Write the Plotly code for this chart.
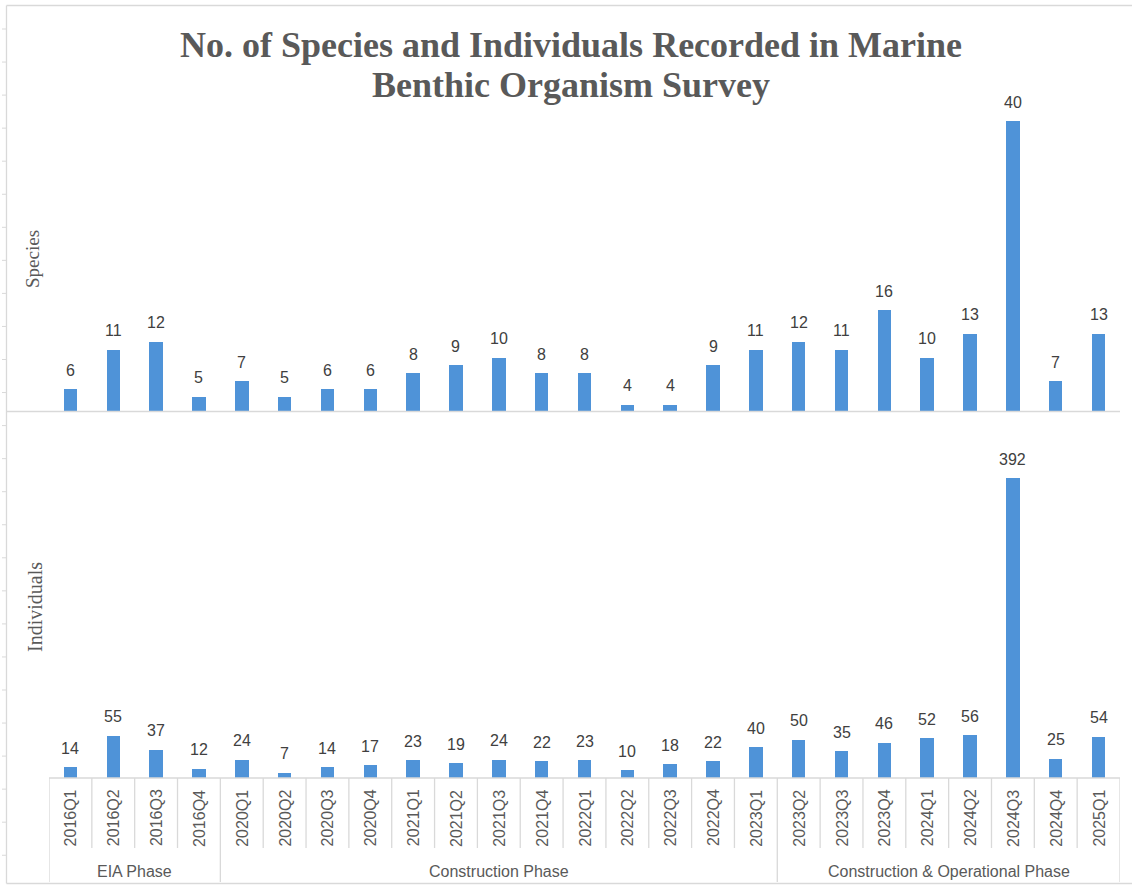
import plotly.graph_objects as go

# Survey periods and the phase each one belongs to
quarters = ["2016Q1", "2016Q2", "2016Q3", "2016Q4",
            "2020Q1", "2020Q2", "2020Q3", "2020Q4",
            "2021Q1", "2021Q2", "2021Q3", "2021Q4",
            "2022Q1", "2022Q2", "2022Q3", "2022Q4",
            "2023Q1", "2023Q2", "2023Q3", "2023Q4",
            "2024Q1", "2024Q2", "2024Q3", "2024Q4", "2025Q1"]
phases = ["EIA Phase", "Construction Phase", "Construction & Operational Phase"]
phase_sizes = [4, 13, 8]

species = [6, 11, 12, 5, 7, 5, 6, 6, 8, 9, 10, 8, 8, 4, 4, 9, 11, 12, 11, 16, 10, 13, 40, 7, 13]
individuals = [14, 55, 37, 12, 24, 7, 14, 17, 23, 19, 24, 22, 23, 10, 18, 22, 40, 50, 35, 46, 52, 56, 392, 25, 54]

title_lines = ["No. of Species and Individuals Recorded in Marine", "Benthic Organism Survey"]

W, H = 1132, 885
BAR = "#4F93D8"
GRID = "#D9D9D9"
TXT = "#595959"
LBL = "#404040"
SANS = "Liberation Sans, Arial"
SERIF = "Liberation Serif, Times New Roman"


def py(px):
    """pixel row (from top) -> paper y"""
    return 1 - px / H


def pxx(px):
    return px / W


xpos = list(range(len(quarters)))
x_dom = [pxx(49), pxx(1120)]

fig = go.Figure()
fig.add_trace(go.Bar(x=xpos, y=species, xaxis="x", yaxis="y", width=0.315,
                     marker=dict(color=BAR, line=dict(width=0)), showlegend=False))
fig.add_trace(go.Bar(x=xpos, y=individuals, xaxis="x2", yaxis="y2", width=0.315,
                     marker=dict(color=BAR, line=dict(width=0)), showlegend=False))

annotations = []
# value labels
for i, v in enumerate(species):
    annotations.append(dict(x=i, y=v, xref="x", yref="y", text=str(v), showarrow=False,
                            yanchor="middle", yshift=19,
                            font=dict(family=SANS, size=16, color=LBL)))
for i, v in enumerate(individuals):
    annotations.append(dict(x=i, y=v, xref="x2", yref="y2", text=str(v), showarrow=False,
                            yanchor="middle", yshift=19,
                            font=dict(family=SANS, size=16, color=LBL)))

# quarter labels (rotated) and phase labels
for i, q in enumerate(quarters):
    annotations.append(dict(x=i, y=py(818), xref="x2", yref="paper", text=q, showarrow=False,
                            textangle=-90, xanchor="center", yanchor="middle",
                            font=dict(family=SANS, size=16, color=TXT)))
start = 0
for name, n in zip(phases, phase_sizes):
    annotations.append(dict(x=start + (n - 1) / 2, y=py(871), xref="x2", yref="paper",
                            text=name, showarrow=False, xanchor="center", yanchor="middle",
                            font=dict(family=SANS, size=16, color=TXT)))
    start += n

# title (two lines) and axis titles
for line_txt, yy in zip(title_lines, [45, 85]):
    annotations.append(dict(x=pxx(571), y=py(yy), xref="paper", yref="paper",
                            text="<b>" + line_txt + "</b>",
                            showarrow=False, xanchor="center", yanchor="middle",
                            font=dict(family=SERIF, size=36, color=TXT)))
annotations.append(dict(x=pxx(32), y=py(259), xref="paper", yref="paper", text="Species",
                        showarrow=False, textangle=-90, xanchor="center", yanchor="middle",
                        font=dict(family=SERIF, size=19, color=TXT)))
annotations.append(dict(x=pxx(35), y=py(607), xref="paper", yref="paper", text="Individuals",
                        showarrow=False, textangle=-90, xanchor="center", yanchor="middle",
                        font=dict(family=SERIF, size=20, color=TXT)))

shapes = []
line = dict(color=GRID, width=1.3)
# outer frame (left, top, bottom)
shapes.append(dict(type="line", xref="paper", yref="paper", x0=pxx(6.5), x1=pxx(6.5), y0=py(5.5), y1=py(883.5), line=line))
shapes.append(dict(type="line", xref="paper", yref="paper", x0=pxx(6.5), x1=1, y0=py(5.5), y1=py(5.5), line=line))
shapes.append(dict(type="line", xref="paper", yref="paper", x0=pxx(6.5), x1=1, y0=py(883.5), y1=py(883.5), line=line))
# small ruler ticks on the left frame
for k in range(26):
    yy = 29 + 33.05 * k
    shapes.append(dict(type="line", xref="paper", yref="paper", x0=pxx(2), x1=pxx(6.5),
                       y0=py(yy), y1=py(yy), line=dict(color=GRID, width=1)))
# species baseline
shapes.append(dict(type="line", xref="paper", yref="paper", x0=pxx(6.5), x1=pxx(1120),
                   y0=py(411.5), y1=py(411.5), line=line))
# category table: top line and separators
shapes.append(dict(type="line", xref="x2", yref="paper", x0=-0.5, x1=len(quarters) - 0.5,
                   y0=py(778), y1=py(778), line=line))
bounds = {0}
acc = 0
for n in phase_sizes:
    acc += n
    bounds.add(acc)
for b in range(len(quarters) + 1):
    bottom = 882 if b in bounds else 848
    shapes.append(dict(type="line", xref="x2", yref="paper", x0=b - 0.5, x1=b - 0.5,
                       y0=py(778), y1=py(bottom), line=line))

fig.update_layout(
    width=W, height=H, margin=dict(l=0, r=0, t=0, b=0),
    paper_bgcolor="white", plot_bgcolor="rgba(0,0,0,0)",
    bargap=0, showlegend=False,
    xaxis=dict(domain=x_dom, range=[-0.5, len(quarters) - 0.5], anchor="y", visible=False),
    xaxis2=dict(domain=x_dom, range=[-0.5, len(quarters) - 0.5], anchor="y2", visible=False),
    yaxis=dict(domain=[py(411.5), py(100)], range=[3.15, 3.15 + 311.5 / 7.88], anchor="x", visible=False),
    yaxis2=dict(domain=[py(778), py(430)], range=[0, 348 / 0.765], anchor="x2", visible=False),
    annotations=annotations, shapes=shapes,
)

fig.write_html("out.html")
